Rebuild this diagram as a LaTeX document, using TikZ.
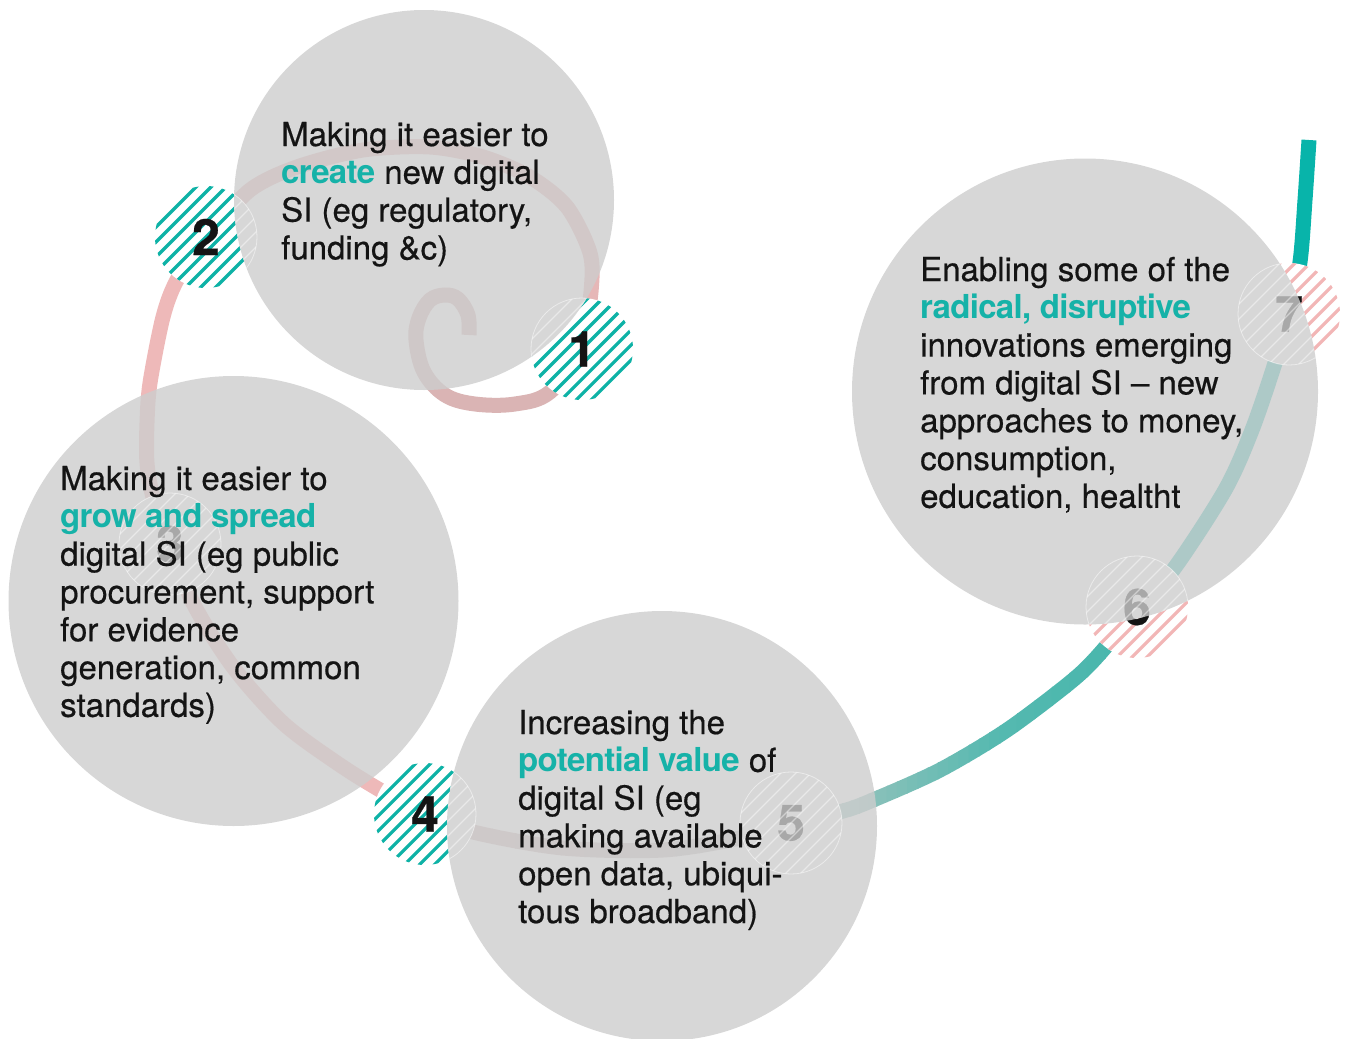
\documentclass[tikz,border=0pt]{standalone}
\usepackage{fontspec}
\setmainfont{TeX Gyre Heros}
\newfontfamily\medfont{TeX Gyre Heros}[FakeBold=0.5]
\newfontfamily\hlfont{TeX Gyre Heros}[LetterSpace=-2]
\usetikzlibrary{calc}
\definecolor{cgray}{RGB}{205,205,205}
\definecolor{tealc}{RGB}{8,180,170}
\definecolor{tealtxt}{RGB}{22,178,168}
\definecolor{tealstripe}{RGB}{14,178,166}
\definecolor{pinkstripe}{RGB}{242,182,182}
\definecolor{rose}{RGB}{218,180,180}
\definecolor{pinkA}{RGB}{230,183,183}
\definecolor{pinkB}{RGB}{238,185,185}
\definecolor{gfa}{RGB}{215,183,183}
\definecolor{gfb}{RGB}{192,194,194}
\definecolor{gva}{RGB}{180,208,204}
\definecolor{gvb}{RGB}{135,192,185}
\definecolor{gvc}{RGB}{85,185,176}
\definecolor{gvd}{RGB}{70,182,172}
\definecolor{segsix}{RGB}{45,186,177}
\definecolor{txtc}{RGB}{20,20,20}
\pgfdeclarelayer{pathl}
\pgfdeclarelayer{circl}
\pgfdeclarelayer{ghost}
\pgfdeclarelayer{txtl}
\pgfsetlayers{pathl,main,circl,ghost,txtl}
\newcommand\hl[1]{{\hlfont\bfseries\color{tealtxt}#1}}
\newcommand\badgestripes[2]{%
  \begin{scope}
    \clip (b#1.center) circle[radius=51];
    \begin{scope}[even odd rule]
    \clip (-20,-20) rectangle (1375,1060)
      (cA.center) circle[radius=190] (cB.center) circle[radius=225]
      (cC.center) circle[radius=215] (cD.center) circle[radius=233];
    \foreach \k in {-7,...,7}
      \draw[#2, line width=3.2pt] ($(b#1.center)+(\k*7.5,\k*7.5)+(-60,60)$) -- ++(120,-120);
    \end{scope}
  \end{scope}}
\newcommand\gradpath[6]{%
  \foreach \i in {1,...,#6}{%
    \pgfmathsetmacro\xa{#2+(#3-#2)*(\i-1)/#6-0.6}%
    \pgfmathsetmacro\xb{#2+(#3-#2)*\i/#6+0.6}%
    \pgfmathsetmacro\pp{100*(\i-0.5)/#6}%
    \begin{scope}
      \clip (\xa,-20) rectangle (\xb,1060);
      \draw[pathline, color=#5!\pp!#4] #1;
    \end{scope}}}
\begin{document}
\begin{tikzpicture}[x=1pt,y=-1pt,
  pathline/.style={line width=15pt, line cap=butt},
  badge/.style={circle, minimum size=102pt, inner sep=0pt, fill=white},
  num/.style={font=\medfont\bfseries\fontsize{50}{50}\selectfont, text=txtc, inner sep=0pt},
  bigcirc/.style={circle, inner sep=0pt, fill=cgray, fill opacity=0.8},
  txt/.style={font=\medfont\fontsize{33}{37.8}\selectfont, text=txtc, align=left, inner sep=0pt, anchor=base west}]
\useasboundingbox (0,0) rectangle (1355,1039);
% big circles
\begin{pgfonlayer}{circl}
\node[bigcirc, minimum size=380pt] (cA) at (424,200) {};
\node[bigcirc, minimum size=450pt] (cB) at (233.5,601) {};
\node[bigcirc, minimum size=430pt] (cC) at (662,826) {};
\node[bigcirc, minimum size=466pt] (cD) at (1085,391.5) {};
\end{pgfonlayer}
% badges
\node[badge] (b1) at (582,349) {};
\node[badge] (b2) at (206,237) {};
\node[badge] (b3) at (170,544) {};
\node[badge] (b4) at (425,814) {};
\node[badge] (b5) at (791,823) {};
\node[badge] (b6) at (1137,607) {};
\node[badge] (b7) at (1289,314) {};
\badgestripes{1}{tealstripe}
\badgestripes{2}{tealstripe}
\badgestripes{4}{tealstripe}
\badgestripes{6}{pinkstripe}
\badgestripes{7}{pinkstripe}
\node[num] (n1) at (b1.center) {1};
\node[num] (n2) at (b2.center) {2};
\node[num] (n3) at (b3.center) {3};
\node[num] (n4) at (b4.center) {4};
\node[num] (n5) at (b5.center) {5};
\node[num] (n6) at (b6.center) {6};
\node[num] (n7) at (b7.center) {7};
% the spiral path
\begin{pgfonlayer}{pathl}
\draw[pathline, rose] plot[smooth, tension=0.6] coordinates {(469,335) (468,315) (458,299) (445,295) (430,300) (419,318) (416,340) (424,372) (445,395) (475,404) (515,404) (550,392) (b1.center)};
\draw[pathline, pinkA] plot[smooth] coordinates {(b1.center) (591,292) (590,253) (567,207) (530,177) (483,157) (430,147) (363,150) (297,167) (250,190) (b2.center)};
\draw[pathline, pinkB] plot[smooth] coordinates {(b2.center) (177,280) (163,317) (150,383) (147,423) (147,463) (153,497) (b3.center)};
\draw[pathline, pinkB] plot[smooth] coordinates {(b3.center) (193,603) (233,667) (283,723) (337,763) (380,790) (b4.center)};
\gradpath{plot[smooth] coordinates {(b4.center) (473,832) (563,848) (663,850) (740,838) (b5.center)}}{424}{791}{gfa}{gfb}{16}
\gradpath{plot[smooth] coordinates {(b5.center) (843,811) (873,800) (940,770) (1007,730) (1073,680) (1103,650) (b6.center)}}{791}{877}{gva}{gvb}{10}
\gradpath{plot[smooth] coordinates {(b5.center) (843,811) (873,800) (940,770) (1007,730) (1073,680) (1103,650) (b6.center)}}{877}{1000}{gvb}{gvc}{12}
\gradpath{plot[smooth] coordinates {(b5.center) (843,811) (873,800) (940,770) (1007,730) (1073,680) (1103,650) (b6.center)}}{1000}{1140}{gvc}{gvd}{8}
\draw[pathline, segsix] plot[smooth] coordinates {(b6.center) (1173,570) (1225,490) (1252,430) (1275,363) (b7.center)};
\draw[pathline, tealc] plot[smooth] coordinates {(b7.center) (1300,262) (1305,200) (1309,140)};
\end{pgfonlayer}
% faint badge traces seen through the circles
\begin{pgfonlayer}{ghost}
\begin{scope}
  \clip (cA.center) circle[radius=190] (cB.center) circle[radius=225]
        (cC.center) circle[radius=215] (cD.center) circle[radius=233];
  \foreach \i in {1,...,7}{
    \begin{scope}
      \clip (b\i.center) circle[radius=51];
      \foreach \k in {-7,...,7}
        \draw[white, opacity=0.45, line width=1.3pt] ($(b\i.center)+(\k*7.5,\k*7.5)+(-60,60)$) -- ++(120,-120);
    \end{scope}
    \draw[white, opacity=0.5, line width=0.8pt] (b\i.center) circle[radius=51];
  }
\end{scope}
\end{pgfonlayer}
% texts (anchored at the baseline of their last line)
\begin{pgfonlayer}{txtl}
\node[txt] (tA) at (281,259.4) {Making it easier to\\ \hl{create} new digital\\ SI (eg regulatory,\\ funding \&c)};
\node[txt] (tB) at (60,716.8) {Making it easier to\\ \hl{grow and spread}\\ digital SI (eg public\\ procurement, support\\ for evidence\\ generation, common\\ standards)};
\node[txt] (tC) at (518,923) {Increasing the\\ \hl{potential value} of\\ digital SI (eg\\ making available\\ open data, ubiqui-\\ tous broadband)};
\node[txt] (tD) at (920,507.8) {Enabling some of the\\ \hl{radical, disruptive}\\ innovations emerging\\ from digital SI – new\\ approaches to money,\\ consumption,\\ education, healtht};
\end{pgfonlayer}
\end{tikzpicture}
\end{document}
